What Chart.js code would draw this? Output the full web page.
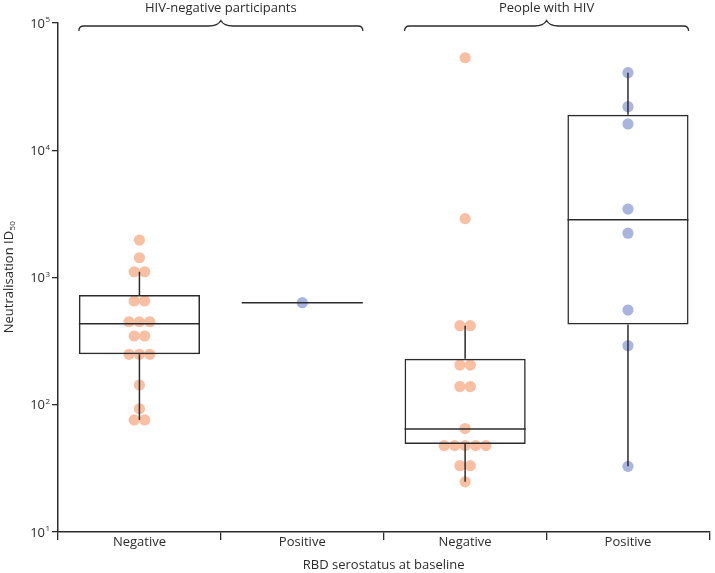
<!DOCTYPE html>
<html>
<head>
<meta charset="utf-8">
<script src="https://cdn.jsdelivr.net/npm/chart.js@4"></script>
<style>
  html, body { margin: 0; padding: 0; background: #fff; }
  #wrap { width: 715px; height: 573px; }
</style>
</head>
<body>
<div id="wrap"><canvas id="chart" width="715" height="573"></canvas></div>
<script>
// ===== DATA =====
const categories = ["Negative", "Positive", "Negative", "Positive"];
const groupLabels = ["HIV-negative participants", "People with HIV"];
const yTicks = [10, 100, 1000, 10000, 100000];

const hivNegSeroNeg = [1970, 1430, 1110, 1110, 654, 654, 449, 449, 449, 347, 347, 249, 249, 249, 143, 93, 76, 76];
const hivNegSeroPos = [634];
const hivPosSeroNeg = [53300, 2900, 418, 418, 205, 205, 139, 139, 65, 47.7, 47.7, 47.7, 47.7, 47.7, 33.2, 33.2, 24.8];
const hivPosSeroPos = [40700, 22000, 16100, 3450, 2230, 555, 291, 32.8];

const whiskerLow = [76, 634, 24.8, 32.8];
const q1 = [249, 634, 49.2, 427];
const median = [434, 634, 64.5, 2846];
const q3 = [728, 634, 230, 19030];
const whiskerHigh = [1110, 634, 418, 40700];

// ===== STYLE =====
const ink = "#2b2b2b";
const font = "'Open Sans', 'Noto Sans', sans-serif";
const peach = "#f8bfa3";
const blue = "#a9b5de";
const boxWidth = 0.744;
const swarmStep = 0.064;

// spread equal values side by side
function swarm(values, group) {
  const counts = {};
  values.forEach(v => counts[v] = (counts[v] || 0) + 1);
  const seen = {};
  return values.map(v => {
    const k = seen[v] = (seen[v] || 0) + 1;
    return { x: group + (k - 1 - (counts[v] - 1) / 2) * swarmStep, y: v };
  });
}

function pointSet(values, group, colour) {
  return {
    type: "scatter",
    data: swarm(values, group),
    xAxisID: "xs",
    yAxisID: "y",
    backgroundColor: colour,
    borderWidth: 0,
    pointRadius: 5.6,
    order: 1
  };
}

function line(ctx, x0, y0, x1, y1) {
  ctx.beginPath();
  ctx.moveTo(x0, y0);
  ctx.lineTo(x1, y1);
  ctx.stroke();
}

function brace(ctx, x0, x1, yl) {
  const xm = (x0 + x1) / 2, r = 5;
  ctx.beginPath();
  ctx.moveTo(x0, yl + r);
  ctx.quadraticCurveTo(x0, yl, x0 + r, yl);
  ctx.lineTo(xm - 12, yl);
  ctx.quadraticCurveTo(xm - 3, yl, xm, yl - 5.5);
  ctx.quadraticCurveTo(xm + 3, yl, xm + 12, yl);
  ctx.lineTo(x1 - r, yl);
  ctx.quadraticCurveTo(x1, yl, x1, yl + r);
  ctx.stroke();
}

// ===== BOX DETAILS, BRACES, LOG LABELS =====
const boxPlugin = {
  id: "boxDetails",
  afterDatasetsDraw(chart) {
    const { ctx, chartArea } = chart;
    const xs = chart.scales.xs, y = chart.scales.y;
    const half = boxWidth / 2;
    ctx.save();
    ctx.strokeStyle = ink;
    ctx.lineWidth = 1.5;
    categories.forEach((c, i) => {
      const xl = xs.getPixelForValue(i - half);
      const xr = xs.getPixelForValue(i + half);
      const xc = xs.getPixelForValue(i);
      const ym = y.getPixelForValue(median[i]);
      line(ctx, xl, ym, xr, ym);
      if (whiskerHigh[i] > q3[i]) line(ctx, xc, y.getPixelForValue(q3[i]), xc, y.getPixelForValue(whiskerHigh[i]));
      if (whiskerLow[i] < q1[i]) line(ctx, xc, y.getPixelForValue(q1[i]), xc, y.getPixelForValue(whiskerLow[i]));
    });

    // group braces
    ctx.lineWidth = 1.3;
    ctx.fillStyle = ink;
    ctx.font = "13px " + font;
    ctx.textAlign = "center";
    ctx.textBaseline = "middle";
    groupLabels.forEach((label, g) => {
      const x0 = xs.getPixelForValue(g * 2 - half);
      const x1 = xs.getPixelForValue(g * 2 + 1 + half);
      brace(ctx, x0, x1, 26);
      ctx.fillText(label, (x0 + x1) / 2, 8);
    });

    // y tick labels as powers of ten
    const left = chartArea.left;
    yTicks.forEach(v => {
      const py = y.getPixelForValue(v);
      ctx.font = "13px " + font;
      ctx.textAlign = "right";
      ctx.fillText("10", left - 13, py + 1);
      ctx.font = "8px " + font;
      ctx.textAlign = "left";
      ctx.fillText(String(Math.round(Math.log10(v))), left - 12.5, py - 3);
    });

    // y title with subscript
    const cy = (chartArea.top + chartArea.bottom) / 2;
    ctx.translate(9, cy);
    ctx.rotate(-Math.PI / 2);
    ctx.font = "13px " + font;
    const main = "Neutralisation ID";
    const w1 = ctx.measureText(main).width;
    ctx.font = "8px " + font;
    const w2 = ctx.measureText("50").width;
    const start = -(w1 + w2) / 2;
    ctx.font = "13px " + font;
    ctx.textAlign = "left";
    ctx.fillText(main, start, 0);
    ctx.font = "8px " + font;
    ctx.fillText("50", start + w1 + 0.5, 4);
    ctx.restore();
  }
};

// ===== CHART =====
new Chart(document.getElementById("chart"), {
  type: "bar",
  data: {
    labels: categories,
    datasets: [
      {
        data: q1.map((v, i) => v === q3[i] ? null : [v, q3[i]]),
        xAxisID: "x",
        yAxisID: "y",
        backgroundColor: "rgba(0,0,0,0)",
        borderColor: ink,
        borderWidth: 1.5,
        borderSkipped: false,
        grouped: false,
        barPercentage: boxWidth,
        categoryPercentage: 1,
        order: 0
      },
      pointSet(hivNegSeroNeg, 0, peach),
      pointSet(hivNegSeroPos, 1, blue),
      pointSet(hivPosSeroNeg, 2, peach),
      pointSet(hivPosSeroPos, 3, blue)
    ]
  },
  options: {
    responsive: false,
    animation: false,
    layout: { padding: { top: 23, right: 3, left: 0, bottom: 0 } },
    plugins: { legend: { display: false }, tooltip: { enabled: false } },
    scales: {
      x: {
        type: "category",
        offset: true,
        grid: { offset: true, drawOnChartArea: false, tickLength: 8, color: ink, lineWidth: 1.3 },
        border: { color: ink, width: 1.5 },
        ticks: { color: ink, font: { family: font, size: 13 }, padding: -6, maxRotation: 0 },
        title: { display: true, text: "RBD serostatus at baseline", color: ink, font: { family: font, size: 13 }, padding: { top: 0, bottom: 0 } },
        afterFit: s => { s.height = 41; }
      },
      xs: { type: "linear", min: -0.5, max: 3.5, offset: false, grace: 0, display: false },
      y: {
        type: "logarithmic",
        min: 10,
        max: 100000,
        afterBuildTicks: s => { s.ticks = yTicks.map(v => ({ value: v })); },
        grid: { drawOnChartArea: false, tickLength: 6, color: ink, lineWidth: 1.3 },
        border: { color: ink, width: 1.5 },
        ticks: { callback: () => "", font: { family: font, size: 13 } },
        afterFit: s => { s.width = 58; }
      }
    }
  },
  plugins: [boxPlugin]
});
</script>
</body>
</html>
